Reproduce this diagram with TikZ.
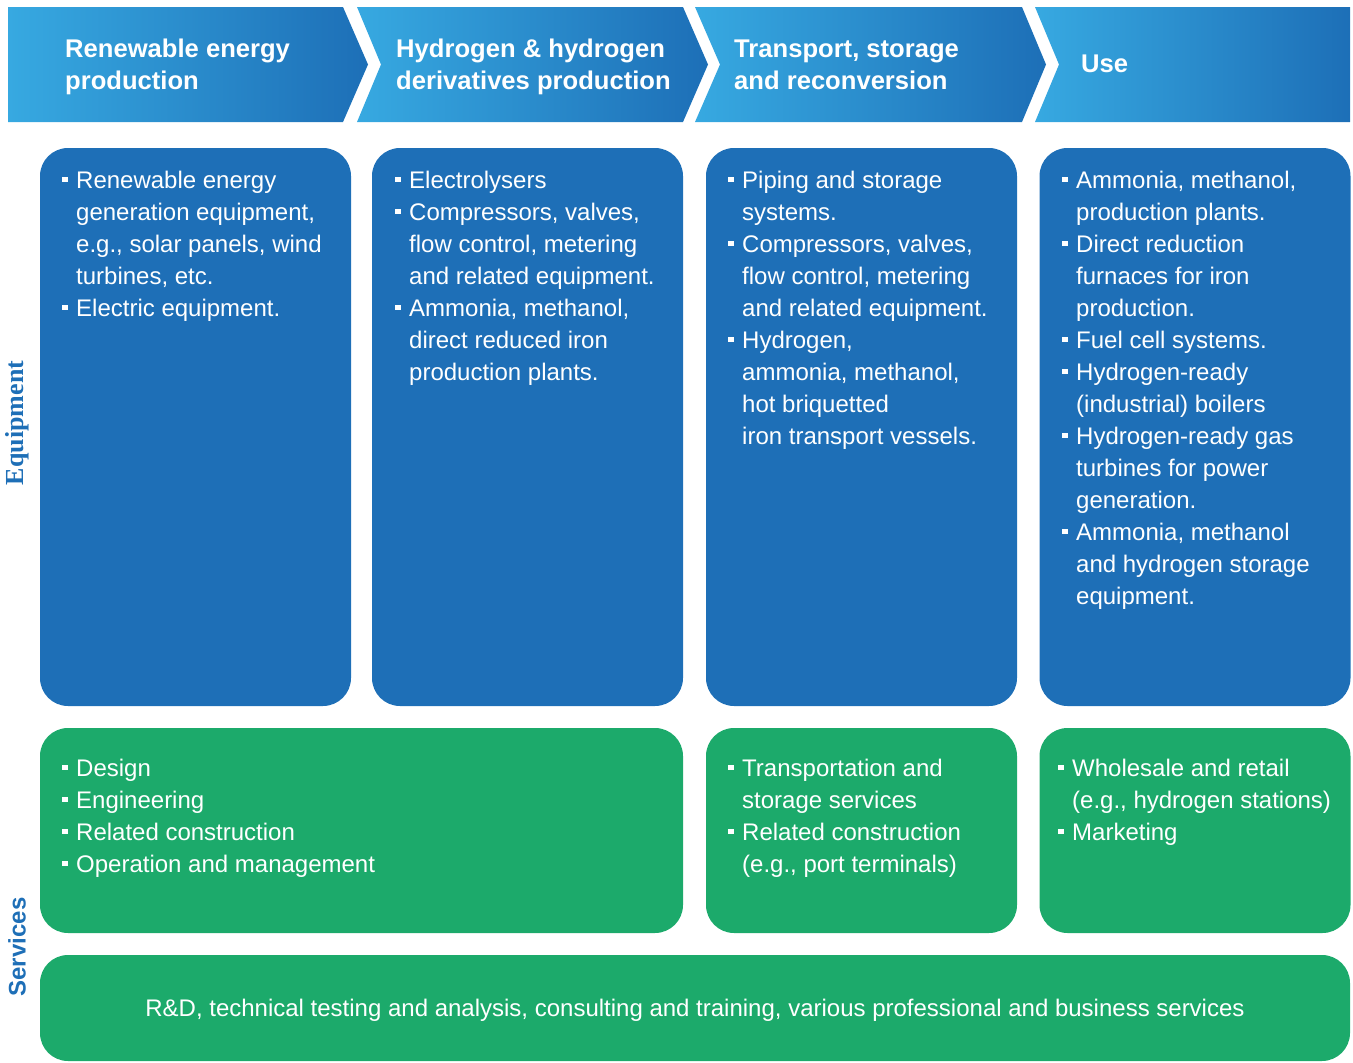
\documentclass[tikz,border=0pt]{standalone}
\usepackage{fontspec}
\setmainfont{Liberation Sans}
\newfontfamily\labserif{Liberation Serif}
\definecolor{headL}{HTML}{37A9E1}
\definecolor{headR}{HTML}{1D6FB7}
\definecolor{eqblue}{HTML}{1E6FB7}
\definecolor{svgreen}{HTML}{1CAA6B}
\newcommand\myb{\makebox[14pt][l]{\raisebox{6pt}{\rule{5.5pt}{5.5pt}}}}
\newcommand\myi{\hspace*{14pt}}
\begin{document}
\begin{tikzpicture}[x=1pt,y=-1pt,
  eqbox/.style={fill=eqblue,draw=none,rounded corners=28pt,minimum width=311pt,inner sep=0},
  svbox/.style={fill=svgreen,draw=none,rounded corners=28pt,inner sep=0},
  txt/.style={anchor=north west,inner sep=0,align=left,text=white,font=\fontsize{24}{32}\selectfont},
  head/.style={anchor=north west,inner sep=0,align=left,text=white,font=\bfseries\fontsize{25.6}{32}\selectfont},
  chev/.style={left color=headL,right color=headR}]
\useasboundingbox (0,0) rectangle (1353,1063);
% header chevrons
\shade[chev] (8,7) -- (343,7) -- (368,64.5) -- (343,122) -- (8,122) -- cycle;
\shade[chev] (357,7) -- (683,7) -- (708,64.5) -- (683,122) -- (357,122) -- (381,64.5) -- cycle;
\shade[chev] (695,7) -- (1022,7) -- (1046,64.5) -- (1022,122) -- (695,122) -- (720,64.5) -- cycle;
\shade[chev] (1035,7) -- (1350,7) -- (1350,122) -- (1035,122) -- (1059,64.5) -- cycle;
\node[head] (h1) at (65,34.6) {\strut Renewable energy\\production};
\node[head] (h2) at (396,34.6) {\strut Hydrogen \& hydrogen\\derivatives production};
\node[head] (h3) at (734,34.6) {\strut Transport, storage\\and reconversion};
\node[head] (h4) at (1081,49.6) {\strut Use};
% side labels
\node[rotate=90,text=eqblue,font=\labserif\bfseries\fontsize{26}{30}\selectfont,inner sep=0] (lEq) at (17,423) {Equipment};
\node[rotate=90,text=eqblue,font=\bfseries\fontsize{24}{30}\selectfont,inner sep=0] (lSv) at (17,947) {Services};
% equipment boxes
\node[eqbox,minimum height=558pt] (e1) at (195.5,427) {};
\node[eqbox,minimum height=558pt] (e2) at (527.5,427) {};
\node[eqbox,minimum height=558pt] (e3) at (861.5,427) {};
\node[eqbox,minimum height=558pt] (e4) at (1195,427) {};
% services boxes
\node[svbox,minimum width=643pt,minimum height=205pt] (s1) at (361.5,830.5) {};
\node[svbox,minimum width=311pt,minimum height=205pt] (s3) at (861.5,830.5) {};
\node[svbox,minimum width=311pt,minimum height=205pt] (s4) at (1195,830.5) {};
\node[svbox,minimum width=1310pt,minimum height=106pt] (s5) at (695,1008) {};
% equipment texts
\node[txt] (t1) at (62,165.6) {\strut\myb Renewable energy\\\myi generation equipment,\\\myi e.g., solar panels, wind\\\myi turbines, etc.\\\myb Electric equipment.};
\node[txt] (t2) at (395,165.6) {\strut\myb Electrolysers\\\myb Compressors, valves,\\\myi flow control, metering\\\myi and related equipment.\\\myb Ammonia, methanol,\\\myi direct reduced iron\\\myi production plants.};
\node[txt] (t3) at (728,165.6) {\strut\myb Piping and storage\\\myi systems.\\\myb Compressors, valves,\\\myi flow control, metering\\\myi and related equipment.\\\myb Hydrogen,\\\myi ammonia, methanol,\\\myi hot briquetted\\\myi iron transport vessels.};
\node[txt] (t4) at (1062,165.6) {\strut\myb Ammonia, methanol,\\\myi production plants.\\\myb Direct reduction\\\myi furnaces for iron\\\myi production.\\\myb Fuel cell systems.\\\myb Hydrogen-ready\\\myi (industrial) boilers\\\myb Hydrogen-ready gas\\\myi turbines for power\\\myi generation.\\\myb Ammonia, methanol\\\myi and hydrogen storage\\\myi equipment.};
% services texts
\node[txt] (u1) at (62,753.6) {\strut\myb Design\\\myb Engineering\\\myb Related construction\\\myb Operation and management};
\node[txt] (u3) at (728,753.6) {\strut\myb Transportation and\\\myi storage services\\\myb Related construction\\\myi (e.g., port terminals)};
\node[txt] (u4) at (1058,753.6) {\strut\myb Wholesale and retail\\\myi (e.g., hydrogen stations)\\\myb Marketing};
\node[anchor=base,inner sep=0,text=white,font=\fontsize{24}{32}\selectfont] (u5) at (695,1016) {R\&D, technical testing and analysis, consulting and training, various professional and business services};
\end{tikzpicture}
\end{document}
